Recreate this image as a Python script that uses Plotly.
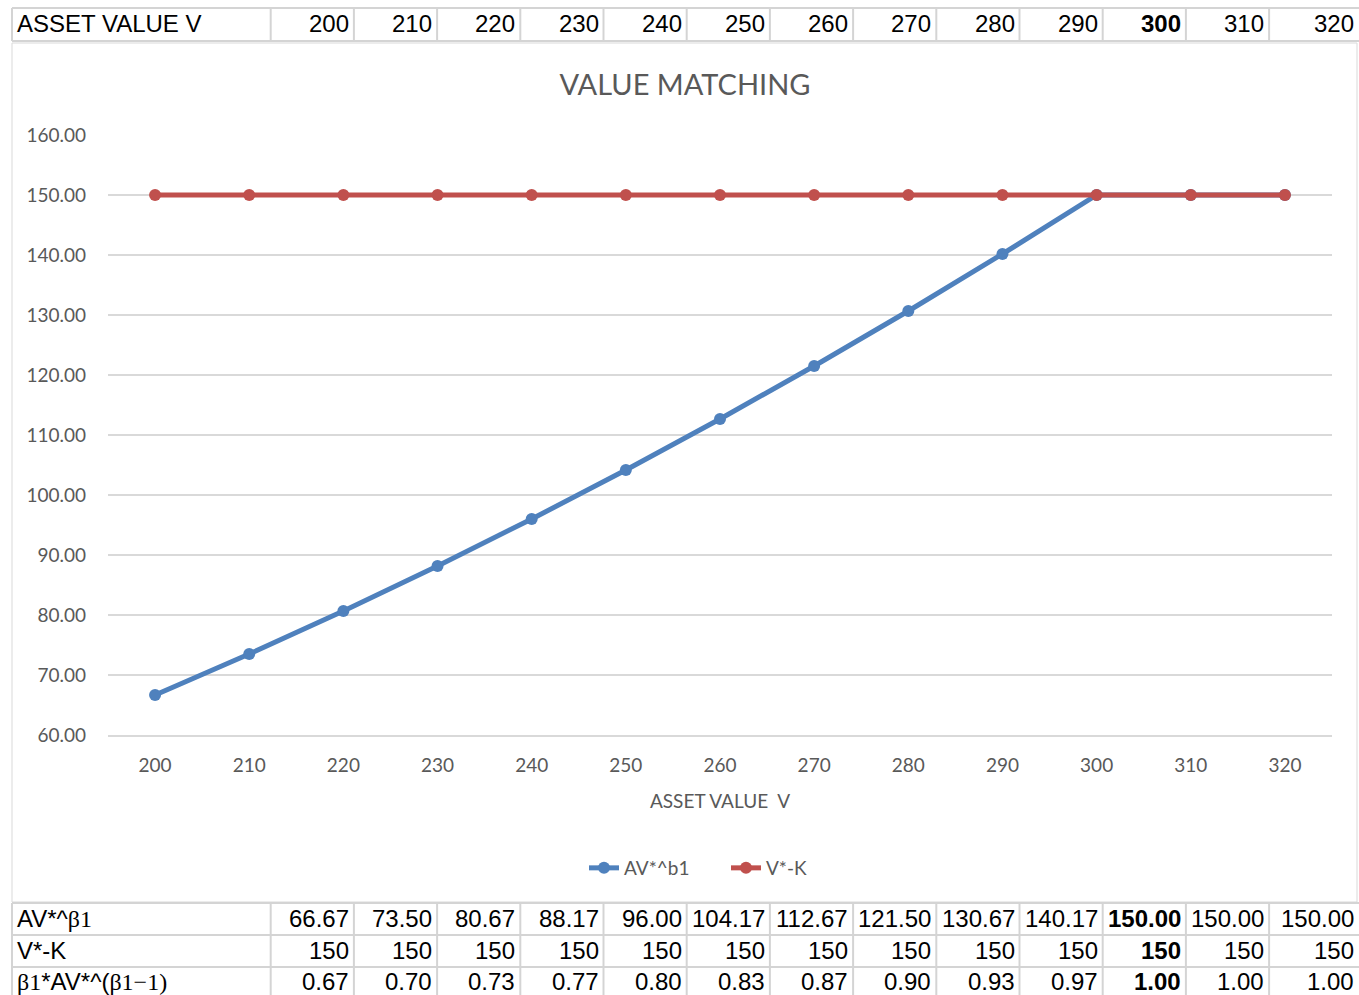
import plotly.graph_objects as go

# ---------------- data ----------------
asset_values = [200, 210, 220, 230, 240, 250, 260, 270, 280, 290, 300, 310, 320]
av_b1 = [66.67, 73.50, 80.67, 88.17, 96.00, 104.17, 112.67, 121.50, 130.67, 140.17, 150.00, 150.00, 150.00]
v_minus_k = [150, 150, 150, 150, 150, 150, 150, 150, 150, 150, 150, 150, 150]
deriv = [0.67, 0.70, 0.73, 0.77, 0.80, 0.83, 0.87, 0.90, 0.93, 0.97, 1.00, 1.00, 1.00]
y_ticks = [60, 70, 80, 90, 100, 110, 120, 130, 140, 150, 160]
highlight_value = 300

W, H = 1359, 995


def px(x):
    return x / W


def py(y):
    return 1 - y / H


BLUE = "#4F81BD"
RED = "#C0504D"
GREY_TXT = "#595959"
GRID = "#D9D9D9"
CELL = "#D4D4D4"
CHART_FONT = "Lato"
TABLE_FONT = "Liberation Sans"
SERIF = "Liberation Serif"
TABLE_SIZE = 24

fig = go.Figure()
fig.add_trace(go.Scatter(
    x=asset_values, y=av_b1, mode="lines+markers", name="AV*^b1",
    line=dict(color=BLUE, width=5), marker=dict(color=BLUE, size=12),
))
fig.add_trace(go.Scatter(
    x=asset_values, y=v_minus_k, mode="lines+markers", name="V*-K",
    line=dict(color=RED, width=5), marker=dict(color=RED, size=12),
))

# plot area geometry (pixels)
PL, PR, PT, PB = 108, 1332, 135, 735
step = asset_values[1] - asset_values[0]

shapes = []
annotations = []

# chart frame
shapes.append(dict(type="rect", xref="paper", yref="paper",
                   x0=px(12), x1=px(1357), y0=py(902), y1=py(43),
                   line=dict(color=GRID, width=1), layer="below"))

# spreadsheet grid
col_left0 = 12
col_first = 270.7
col_w = 83.2
n = len(asset_values)
col_rights = [col_first + (i + 1) * col_w for i in range(n - 1)] + [W]
col_edges = [col_left0, col_first] + col_rights[:-1]
rows_top = [(8, 41)]
rows_bottom = [(903, 935), (935, 967), (967, 999)]
for (y0, y1) in rows_top + rows_bottom:
    for yy in (y0, y1):
        shapes.append(dict(type="line", xref="paper", yref="paper",
                           x0=px(col_left0), x1=1, y0=py(yy), y1=py(yy),
                           line=dict(color=CELL, width=2)))
    for xe in col_edges:
        shapes.append(dict(type="line", xref="paper", yref="paper",
                           x0=px(xe), x1=px(xe), y0=py(y0), y1=py(y1),
                           line=dict(color=CELL, width=2)))


def cell_text(text, col, row_y, bold=False):
    right = col_rights[col] - 3
    t = f"<b>{text}</b>" if bold else text
    annotations.append(dict(xref="paper", yref="paper", x=px(right), y=py(row_y),
                            xanchor="right", yanchor="middle", text=t, showarrow=False,
                            font=dict(family=TABLE_FONT, size=TABLE_SIZE, color="black")))


def label_text(text, row_y):
    annotations.append(dict(xref="paper", yref="paper", x=px(15), y=py(row_y),
                            xanchor="left", yanchor="middle", text=text, showarrow=False,
                            font=dict(family=TABLE_FONT, size=TABLE_SIZE, color="black")))


# top row
label_text("ASSET VALUE V", 24)
for i, v in enumerate(asset_values):
    cell_text(f"{v}", i, 24, bold=(v == highlight_value))

# bottom rows
beta = f"<span style='font-family:{SERIF}'>β1</span>"
label_text(f"AV*^{beta}", 918)
label_text("V*-K", 950)
label_text(f"{beta}*AV*^(<span style='font-family:{SERIF}'>β1−1)</span>", 981)
for i, v in enumerate(asset_values):
    b = v == highlight_value
    cell_text(f"{av_b1[i]:.2f}", i, 918, bold=b)
    cell_text(f"{v_minus_k[i]}", i, 950, bold=b)
    cell_text(f"{deriv[i]:.2f}", i, 981, bold=b)

fig.update_layout(
    width=W, height=H,
    margin=dict(l=0, r=0, t=0, b=0, pad=0, autoexpand=False),
    paper_bgcolor="white", plot_bgcolor="white",
    title=dict(text="VALUE MATCHING", x=px(685), y=py(85), xanchor="center", yanchor="middle",
               font=dict(family=CHART_FONT, size=29, color=GREY_TXT)),
    xaxis=dict(
        domain=[px(PL), px(PR)],
        range=[asset_values[0] - step / 2, asset_values[-1] + step / 2],
        tickvals=asset_values, ticktext=[str(v) for v in asset_values],
        showgrid=False, zeroline=False, automargin=False,
        showline=True, linecolor=GRID, linewidth=1.5,
        ticks="", ticklabelstandoff=12,
        tickfont=dict(family=CHART_FONT, size=19, color=GREY_TXT),
        title=dict(text="ASSET VALUE  V", standoff=20,
                   font=dict(family=CHART_FONT, size=19, color=GREY_TXT)),
        fixedrange=True,
    ),
    yaxis=dict(
        domain=[py(PB), py(PT)],
        range=[y_ticks[0], y_ticks[-1]],
        tickvals=y_ticks, tickformat=".2f",
        showgrid=True, gridcolor=GRID, gridwidth=1.5, automargin=False,
        zeroline=False, showline=False, ticks="", ticklabelstandoff=21,
        tickfont=dict(family=CHART_FONT, size=19, color=GREY_TXT),
        fixedrange=True,
    ),
    legend=dict(orientation="h", x=px(584), xanchor="left", y=py(868), yanchor="middle",
                font=dict(family=CHART_FONT, size=19, color=GREY_TXT),
                itemwidth=30, entrywidth=97, bgcolor="rgba(0,0,0,0)"),
    shapes=shapes,
    annotations=annotations,
    showlegend=True,
)

fig.write_html(
    "out.html",
    config={"displayModeBar": False},
    post_script="document.body.style.margin='0';document.body.style.overflow='hidden';",
)
